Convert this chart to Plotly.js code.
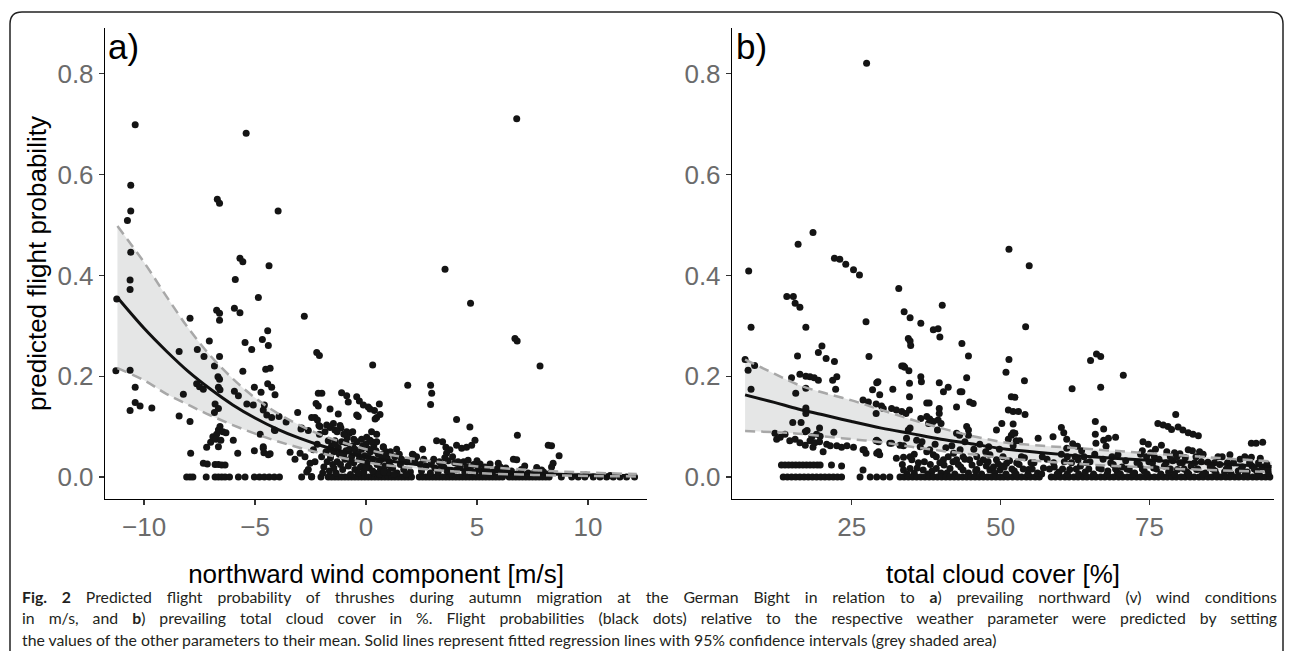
<!DOCTYPE html>
<html>
<head>
<meta charset="utf-8">
<script src="https://cdn.plot.ly/plotly-3.0.1.min.js"></script>
<style>
  html, body { margin: 0; padding: 0; background: #fff; }
  #chart { width: 1292px; height: 651px; }
</style>
</head>
<body>
<div id="chart"></div>
<script>
// ---------------- DATA ----------------
const probTicks = [0, 0.2, 0.4, 0.6, 0.8];
const probTickText = ['0.0', '0.2', '0.4', '0.6', '0.8'];
const windTicks = [-10, -5, 0, 5, 10];
const cloudTicks = [25, 50, 75];

const windTitle = 'northward wind component [m/s]';
const cloudTitle = 'total cloud cover [%]';
const probTitle = 'predicted flight probability';
const panelLabels = ['a)', 'b)'];
const captionLines = [
  '<b>Fig. 2</b> Predicted flight probability of thrushes during autumn migration at the German Bight in relation to <b>a</b>) prevailing northward (v) wind conditions',
  'in m/s, and <b>b</b>) prevailing total cloud cover in %. Flight probabilities (black dots) relative to the respective weather parameter were predicted by setting',
  'the values of the other parameters to their mean. Solid lines represent fitted regression lines with 95% confidence intervals (grey shaded area)'
];

// Panel a: fitted line and 95% CI
const windFitX   = [-11.2, -10, -9, -8, -7, -6, -5, -4, -3, -2, -1, 0, 1, 2, 3, 4, 5, 6, 7, 8, 9, 10, 11, 12.2];
const windFit    = [0.356, 0.295, 0.250, 0.209, 0.174, 0.143, 0.117, 0.095, 0.077, 0.062, 0.050, 0.040, 0.032, 0.026, 0.021, 0.016, 0.013, 0.010, 0.008, 0.007, 0.005, 0.004, 0.0033, 0.0025];
const windLower  = [0.216, 0.192, 0.165, 0.143, 0.122, 0.103, 0.086, 0.071, 0.058, 0.047, 0.037, 0.029, 0.023, 0.018, 0.014, 0.011, 0.008, 0.006, 0.005, 0.0035, 0.0027, 0.002, 0.0015, 0.0011];
const windUpper  = [0.498, 0.426, 0.359, 0.295, 0.240, 0.195, 0.157, 0.127, 0.103, 0.083, 0.068, 0.055, 0.045, 0.037, 0.031, 0.026, 0.021, 0.018, 0.015, 0.0125, 0.0105, 0.009, 0.0073, 0.0059];

// Panel b: fitted line and 95% CI
const cloudFitX  = [7.1, 12, 16, 20, 25, 30, 35, 40, 45, 51, 57, 63, 69, 75, 80, 85, 90, 95.5];
const cloudFit   = [0.163, 0.148, 0.135, 0.124, 0.110, 0.097, 0.086, 0.075, 0.066, 0.055, 0.048, 0.042, 0.037, 0.033, 0.030, 0.027, 0.024, 0.021];
const cloudLower = [0.091, 0.089, 0.086, 0.081, 0.075, 0.069, 0.060, 0.052, 0.045, 0.037, 0.031, 0.026, 0.022, 0.019, 0.016, 0.014, 0.012, 0.010];
const cloudUpper = [0.233, 0.205, 0.183, 0.168, 0.152, 0.133, 0.114, 0.097, 0.082, 0.068, 0.062, 0.057, 0.052, 0.047, 0.043, 0.039, 0.035, 0.031];

// Panel a points [northward wind, probability]
const windPoints = [
 [-10.4,0.699],[-5.4,0.682],[6.79,0.711],[-10.6,0.579],[-6.7,0.551],[-6.6,0.543],[-3.96,0.528],[-10.6,0.528],[-10.75,0.509],
 [-10.6,0.446],[-5.68,0.434],[-5.55,0.427],[-4.37,0.419],[3.56,0.412],[-5.89,0.392],[-10.63,0.391],[-10.63,0.372],[-11.23,0.353],
 [-4.85,0.356],[4.71,0.345],[-2.78,0.319],[-6.73,0.331],[-6.6,0.325],[-6.6,0.311],[-5.93,0.335],[-5.68,0.326],[-7.93,0.315],
 [6.71,0.275],[6.81,0.270],[-7.06,0.270],[-5.45,0.267],[-5.15,0.253],[-4.67,0.273],[-4.43,0.290],[-4.40,0.261],[-8.42,0.249],
 [-7.6,0.253],[-7.3,0.239],[-6.6,0.239],[-2.22,0.247],[-2.1,0.241],[-6.83,0.220],[-6.67,0.199],[-6.6,0.194],[-5.55,0.210],
 [-4.52,0.214],[-4.32,0.216],[-4.43,0.185],[-4.25,0.178],[-4.1,0.163],[-11.27,0.211],[-10.63,0.212],[-10.4,0.178],[-8.23,0.164],
 [-7.63,0.185],[-7.5,0.179],[-7.33,0.174],[-6.65,0.178],[-6.58,0.173],[-5.93,0.170],[-5.75,0.161],[-5.03,0.178],[-4.73,0.168],
 [0.3,0.222],[7.84,0.220],[1.88,0.182],[2.91,0.182],[2.96,0.166],[2.91,0.144],
 [-10.4,0.148],[-10.18,0.141],[-9.65,0.137],[-10.63,0.132],[-8.42,0.121],[-7.93,0.110],[-6.8,0.145],[-6.65,0.136],[-6.83,0.128],
 [-5.37,0.145],[-5.08,0.143],[-4.58,0.143],[-4.63,0.133],[-4.47,0.123],[-4.25,0.118],[-3.92,0.120],[-3.6,0.109],[-4.1,0.092],
 [-2.93,0.095],[-2.6,0.092],[-2.3,0.118],[-2.19,0.113],[-2.12,0.102],[-2.07,0.1],[-2.25,0.146],[-1.99,0.166],[-2.15,0.166],
 [-1.1,0.167],[-0.87,0.161],[-0.8,0.149],[-0.42,0.159],[-0.3,0.151],[-0.12,0.143],[0.1,0.139],[0.38,0.132],[0.6,0.145],
 [0.63,0.124],[0.48,0.118],[-0.42,0.123],[-0.35,0.120],[-1.62,0.135],[-1.25,0.125],[-1.47,0.106],[-1.17,0.102],[-2.15,0.141],
 [-3.08,0.128],[-2.45,0.118],[-1.77,0.103],[-1.62,0.098],[-1.4,0.093],[-1.13,0.097],[-0.87,0.090],[-0.75,0.087],[0.03,0.079],
 [0.18,0.073],[0.48,0.085],[0.48,0.07],[0.78,0.059],[0.41,0.115],[0.18,0.135],
 [4.08,0.114],[4.68,0.099],[6.82,0.083],[3.18,0.072],[3.45,0.070],[3.6,0.059],[3.78,0.054],[4.08,0.063],[4.31,0.057],[4.53,0.059],
 [4.76,0.063],[4.91,0.073],[8.21,0.063],[8.36,0.062],[8.7,0.042],[8.43,0.027],[8.36,0.020],[2.55,0.055],[1.38,0.055],[2.09,0.045],
 [2.28,0.040],[6.64,0.035],[6.79,0.034],[5.14,0.026],[5.59,0.026],[5.96,0.027],[7.69,0.019],[7.91,0.014],[3.3,0.03],[3.7,0.032],
 [4.0,0.028],[4.4,0.03],[4.6,0.033],[0.78,0.06],[3.63,0.047],[2.13,0.044],
 [-7.33,0.027],[-7.15,0.026],[-6.8,0.025],[-6.65,0.025],[-6.5,0.024],[-6.35,0.024],[-7.9,0.047],[-7.18,0.059],[-7.0,0.069],
 [-6.9,0.080],[-6.73,0.085],[-6.65,0.093],[-6.58,0.100],[-6.45,0.090],[-6.76,0.075],[-6.54,0.073],[-6.31,0.088],[-5.98,0.073],
 [-6.65,0.060],[-5.78,0.047],[-5.03,0.052],[-4.63,0.060],[-4.6,0.048],[-4.32,0.046],[-4.77,0.085],[-3.42,0.049],[-2.97,0.047],
 [-2.75,0.040],[-2.52,0.027],[-2.37,0.054],[-4.13,0.093],[-4.63,0.057],[-4.4,0.044],[-2.67,0.010],[-2.45,0.001],[-2.9,0.097],
 [-8.08,0],[-7.93,0],[-7.8,0],[-7.2,0],[-6.8,0],[-6.65,0],[-6.5,0],[-6.35,0],[-6.15,0],[-5.75,0],[-5.45,0],[-5.03,0],[-4.8,0],
 [-4.58,0],[-4.36,0],[-4.13,0],[-3.9,0],[-2.9,0],[-2.45,0],[-2.03,0],
 [-1.7,0],[-1.55,0],[-1.4,0],[-1.25,0],[-1.1,0],[-0.95,0],[-0.8,0],[-0.65,0],[-0.5,0],[-0.35,0],[-0.2,0],[-0.05,0],[0.1,0],
 [0.25,0],[0.4,0],[0.55,0],[0.7,0],[0.85,0],[1.0,0],[1.15,0],[1.3,0],[1.45,0],[1.6,0],[1.75,0],[1.9,0],[2.05,0],
 [-1.65,0.012],[-1.5,0.025],[-1.6,0.038],[-1.45,0.05],[-1.55,0.062],[-1.7,0.072],[-1.35,0.008],[-1.3,0.03],[-1.2,0.045],
 [-1.25,0.058],[-1.1,0.07],[-1.05,0.015],[-0.95,0.035],[-0.9,0.052],[-0.85,0.078],[-0.8,0.022],[-0.7,0.005],[-0.65,0.04],
 [-0.6,0.062],[-0.55,0.028],[-0.5,0.015],[-0.45,0.048],[-0.4,0.07],[-0.3,0.035],[-0.25,0.02],[-0.2,0.055],[-0.1,0.01],
 [-0.05,0.042],[0.0,0.065],[0.05,0.028],[0.15,0.018],[0.2,0.05],[0.3,0.035],[0.35,0.062],[0.4,0.008],[0.5,0.025],[0.55,0.045],
 [0.65,0.015],[0.7,0.035],[0.85,0.022],[0.9,0.05],[1.0,0.01],[1.05,0.03],[1.2,0.018],[1.3,0.04],[1.4,0.008],[1.55,0.025],
 [1.7,0.015],[1.85,0.03],[2.0,0.01],[-2.2,0.065],[-2.0,0.04],[-1.9,0.02],[-2.1,0.085],[-1.85,0.09],[-1.0,0.085],[-0.6,0.09],
 [-0.2,0.075],[0.25,0.09],[-1.3,0.09],[-1.8,0.05],[-1.4,0.072],[-0.75,0.055],[-0.15,0.03],[0.6,0.005],[0.95,0.038],[-2.3,0.03],
 [-1.95,0.008],[-0.35,0.008],[0.12,0.055],
 [-1.75,0.03],[-1.6,0.055],[-1.45,0.018],[-1.38,0.065],[-1.15,0.025],[-1.0,0.045],[-0.9,0.068],[-0.7,0.03],[-0.55,0.075],
 [-0.5,0.055],[-0.35,0.045],[-0.15,0.062],[0.0,0.02],[0.1,0.04],[0.25,0.07],[0.3,0.012],[0.45,0.052],[0.6,0.03],[0.75,0.045],
 [0.8,0.01],[1.1,0.022],[1.25,0.005],[1.6,0.035],[1.8,0.005],[-2.6,0.015],[-3.2,0.035],
 [2.4,0],[2.55,0],[2.7,0],[2.85,0],[3.0,0],[3.15,0],[3.3,0],[3.45,0],[3.6,0],[3.75,0],[3.9,0],[4.05,0],[4.2,0],[4.35,0],[4.5,0],
 [4.65,0],[4.8,0],[4.95,0],[5.1,0],[5.25,0],[5.4,0],[5.55,0],[5.7,0],[5.85,0],[6.0,0],[6.15,0],[6.45,0],[6.6,0],[6.75,0],[6.9,0],
 [7.05,0],[7.2,0],[7.35,0],[7.5,0],[7.65,0],[7.8,0],[7.95,0],[8.1,0],[8.25,0],[8.8,0],[9.27,0],[9.56,0],[9.86,0],[10.24,0],
 [10.54,0],[10.84,0],[11.14,0],[11.44,0],[11.74,0],[12.1,0],
 [2.5,0.012],[2.7,0.022],[2.9,0.008],[3.1,0.018],[3.25,0.01],[3.5,0.02],[3.65,0.012],[3.85,0.006],[4.1,0.015],[4.25,0.022],
 [4.45,0.01],[4.7,0.018],[4.9,0.008],[5.2,0.012],[5.45,0.015],[5.7,0.01],[5.9,0.016],[6.1,0.008],[6.55,0.012],[6.8,0.006],
 [7.0,0.015],[7.3,0.008],[7.6,0.01],[7.85,0.005],[8.0,0.01],[8.3,0.008],[2.2,0.03],[2.6,0.035],[3.9,0.04],[5.0,0.032],
 [9.9,0.004],[11.0,0.003],[1.5,0.045],[1.1,0.05],[3.4,0.025],[4.85,0.025],[5.35,0.02],[6.3,0.018],[7.15,0.022],[2.95,0.028],
 [2.45,0.025],[3.05,0.035],[3.55,0.038],[4.15,0.03],[4.55,0.02],[5.05,0.018],[5.6,0.005],[6.05,0.02],[6.35,0.005]
];

// Panel b points [total cloud cover, probability]
const cloudPoints = [
 [27.5,0.821],[7.7,0.409],[16.0,0.462],[18.5,0.485],[22.1,0.434],[23.0,0.432],[24.0,0.422],[25.3,0.411],[26.3,0.401],[32.9,0.374],
 [51.4,0.452],[54.8,0.419],[14.1,0.358],[15.2,0.358],[15.5,0.345],[16.3,0.337],[17.3,0.297],[8.1,0.297],[33.8,0.328],[34.8,0.316],
 [27.4,0.308],[36.6,0.305],[38.7,0.292],[39.5,0.294],[39.8,0.278],[40.2,0.341],[34.5,0.275],[34.8,0.270],[34.9,0.261],[43.5,0.265],
 [54.2,0.298],[27.9,0.239],[33.4,0.220],[33.9,0.218],[34.6,0.211],[44.6,0.240],[51.4,0.233],[50.9,0.208],[7.1,0.233],[7.6,0.212],
 [8.7,0.221],[8.1,0.174],[15.9,0.240],[14.9,0.197],[16.3,0.204],[17.3,0.200],[18.0,0.199],[18.7,0.197],[19.4,0.192],[19.4,0.247],
 [20.0,0.260],[20.7,0.235],[22.1,0.229],[17.3,0.176],[15.6,0.166],[21.8,0.192],[22.5,0.199],[22.3,0.174],[15.1,0.108],[16.5,0.108],
 [17.3,0.133],[17.3,0.126],[17.3,0.137],
 [26.9,0.153],[27.8,0.149],[28.5,0.173],[29.4,0.189],[29.7,0.163],[29.1,0.145],[30.0,0.141],[29.1,0.126],[30.3,0.136],[31.9,0.174],
 [31.7,0.136],[32.5,0.133],[33.4,0.130],[34.1,0.126],[34.7,0.133],[34.7,0.159],[34.7,0.186],[36.6,0.199],[36.7,0.189],[36.6,0.116],
 [37.6,0.120],[37.9,0.106],[37.6,0.147],[38.0,0.147],[39.7,0.187],[41.2,0.178],[39.7,0.136],[39.7,0.126],[39.5,0.113],[39.4,0.093],
 [42.6,0.139],[43.5,0.169],[44.3,0.197],[44.8,0.149],[45.4,0.146],[42.6,0.087],[43.1,0.083],[44.3,0.1],[44.6,0.093],[44.6,0.083],
 [33.7,0.220],[29.2,0.187],[40.4,0.169],[43.2,0.169],[38.1,0.115],[38.7,0.110],[40.0,0.106],[35.9,0.073],[34.5,0.093],[34.8,0.097],
 [51.3,0.133],[52.1,0.130],[53.0,0.130],[54.1,0.124],[51.8,0.159],[52.4,0.158],[52.1,0.105],[52.4,0.087],[51.8,0.083],[51.3,0.075],
 [56.3,0.077],[54.0,0.191],[50.2,0.106],[52.1,0.088],[52.6,0.072],[53.2,0.072],[52.1,0.062],[58.8,0.080],[60.2,0.098],[60.6,0.088],
 [61.1,0.075],[61.1,0.057],[62.1,0.066],[62.9,0.061],[63.6,0.052],[62.0,0.175],[65.1,0.231],[66.1,0.244],[66.8,0.239],[66.8,0.178],
 [70.6,0.202],[65.9,0.110],[65.9,0.085],[66.0,0.067],[67.3,0.095],[67.3,0.073],[67.7,0.061],[68.1,0.077],[69.3,0.079],[69.7,0.044],
 [73.9,0.070],[74.8,0.065],[73.8,0.052],[74.5,0.040],[76.4,0.106],[77.3,0.103],[78.1,0.100],[78.7,0.094],[79.4,0.124],[79.8,0.099],
 [80.6,0.093],[81.5,0.088],[82.3,0.085],[83.2,0.082],[77.0,0.063],[77.9,0.050],[79.2,0.048],[80.1,0.046],[81.5,0.054],[82.2,0.052],
 [83.4,0.050],[88.5,0.044],[92.1,0.067],[92.9,0.067],[94.0,0.069],[92.1,0.039],[93.6,0.037],[84.8,0.029],
 [12.1,0.087],[12.4,0.075],[13.0,0.079],[13.8,0.085],[14.6,0.072],[15.5,0.075],[16.3,0.068],[17.2,0.063],[18.0,0.072],[18.5,0.059],
 [18.8,0.068],[19.7,0.081],[19.6,0.070],[20.2,0.050],[20.8,0.065],[21.4,0.062],[22.0,0.089],[22.5,0.062],[23.3,0.059],[24.2,0.062],
 [25.3,0.059],[26.9,0.054],[29.1,0.072],[29.5,0.050],[31.4,0.067],[33.1,0.063],[33.7,0.062],[34.2,0.077],[17.2,0.090],[17.5,0.092],
 [18.3,0.080],[19.1,0.085],[19.6,0.097],[27.1,0.054],[27.4,0.047],[29.2,0.073],[29.5,0.070],[29.2,0.047],[29.7,0.044],[31.7,0.067],
 [32.5,0.037],[33.7,0.039],[34.8,0.040],[35.1,0.034],[37.6,0.050],[38.1,0.054],[38.7,0.044],[39.2,0.040],[40.4,0.034],[41.2,0.040],
 [42.1,0.047],[42.6,0.034],[43.2,0.054],[43.7,0.040],[44.8,0.034],[46.0,0.040],[47.1,0.034],[48.2,0.044],[49.3,0.034],[50.4,0.040],
 [51.0,0.027],[33.7,0.014],[34.8,0.017],[37.0,0.014],[39.2,0.017],[41.5,0.017],[43.7,0.014],[46.0,0.015],[48.2,0.014],[49.9,0.014],
 [26.9,0.014],[49.3,0.093],[36.5,0.06],[40.8,0.058],[45.5,0.055],[47.5,0.05],[36.2,0.028],[38.2,0.025],[40.5,0.024],[42.9,0.025],
 [45.2,0.024],[47.6,0.022],[50.2,0.022],[35.5,0.008],[37.8,0.006],[40.0,0.008],[42.3,0.006],[44.6,0.008],[46.8,0.006],[49.0,0.008],
 [33.5,0.025],[34.3,0.006],[36.0,0.018],[37.2,0.03],[38.5,0.012],[39.8,0.028],[41.0,0.008],[42.0,0.03],[43.3,0.02],[44.0,0.035],
 [45.8,0.012],[46.5,0.028],[47.9,0.03],[48.8,0.02],[49.6,0.026],[35.5,0.045],[36.8,0.07],[39.0,0.065],[41.8,0.062],[44.0,0.07],
 [46.5,0.065],[48.0,0.06],[49.8,0.055],
 [13.2,0.024],[13.8,0.024],[14.4,0.024],[15.0,0.024],[15.6,0.024],[16.2,0.024],[16.8,0.024],[17.4,0.024],[18.0,0.024],[18.6,0.024],
 [19.2,0.024],[19.7,0.024],[21.6,0.024],[23.3,0.022],
 [13.5,0],[14.2,0],[14.9,0],[15.6,0],[16.3,0],[17.0,0],[17.7,0],[18.4,0],[19.1,0],[19.8,0],[20.5,0],[21.2,0],[21.9,0],[22.6,0],
 [23.3,0],[26.4,0],[28.1,0],[29.2,0],[30.3,0],[31.4,0],[33.1,0],[33.8,0],[34.5,0],[35.2,0],[35.9,0],[36.6,0],[37.3,0],[38.0,0],
 [38.7,0],[39.4,0],[40.1,0],[40.8,0],[41.5,0],[42.2,0],[42.9,0],[43.6,0],[44.3,0],[45.0,0],[45.7,0],[46.4,0],[47.1,0],[47.8,0],
 [48.5,0],[49.2,0],[49.9,0],
 [50.5,0],[51.2,0],[52.0,0],[52.8,0],[53.5,0],[54.3,0],[55.0,0],[55.8,0],[56.5,0],[58.5,0],[59.2,0],[60.0,0],[60.8,0],[61.5,0],
 [62.3,0],[63.0,0],[63.8,0],[64.5,0],[65.3,0],[66.0,0],[66.8,0],[67.5,0],[68.3,0],[69.0,0],[69.8,0],[70.5,0],[71.3,0],[72.0,0],
 [72.8,0],[73.5,0],[74.3,0],[75.0,0],[75.8,0],[76.5,0],[77.3,0],[78.0,0],[78.8,0],[79.5,0],[80.3,0],[81.0,0],[81.8,0],[82.5,0],
 [83.3,0],[84.0,0],[84.8,0],[85.5,0],[86.3,0],[87.0,0],[87.8,0],[88.5,0],[89.3,0],[90.0,0],[90.8,0],[91.5,0],[92.3,0],[93.0,0],
 [93.8,0],[94.5,0],[95.2,0],
 [50.6,0.02],[51.5,0.032],[52.3,0.012],[53.1,0.025],[54.0,0.038],[54.7,0.015],[55.6,0.028],[56.2,0.008],[57.2,0.018],[59.0,0.02],
 [59.8,0.01],[60.7,0.03],[61.6,0.015],[62.5,0.04],[63.4,0.022],[64.2,0.01],[65.0,0.03],[65.8,0.045],[66.5,0.018],[67.2,0.035],
 [68.0,0.012],[68.9,0.025],[69.6,0.01],[70.4,0.02],[71.6,0.015],[72.5,0.008],[73.3,0.025],[74.1,0.012],[74.9,0.03],[75.7,0.018],
 [76.6,0.035],[77.5,0.022],[78.2,0.01],[78.9,0.032],[79.7,0.015],[80.5,0.028],[81.3,0.01],[82.0,0.022],[82.9,0.015],[83.7,0.03],
 [84.4,0.008],[85.2,0.02],[86.0,0.012],[86.8,0.025],[87.6,0.01],[88.3,0.018],[89.1,0.028],[89.9,0.012],[90.6,0.02],[91.4,0.01],
 [92.2,0.022],[93.0,0.012],[93.9,0.02],[94.8,0.015],[95.0,0.008],[73.5,0.045],[75.2,0.048],[76.0,0.055],[84.0,0.045],[86.5,0.04],
 [90.2,0.035],[94.7,0.025],[57.8,0.035],[60.2,0.045],[63.0,0.034],[71.0,0.032],[78.5,0.04],[81.0,0.038],
 [50.9,0.006],[52.6,0.006],[54.6,0.006],[56.9,0.006],[59.5,0.006],[61.2,0.006],[63.1,0.006],[65.6,0.006],[67.9,0.006],[70.1,0.006],
 [72.2,0.006],[74.6,0.006],[76.9,0.006],[79.2,0.006],[81.6,0.006],[83.9,0.006],[86.2,0.006],[88.7,0.006],[91.1,0.006],[93.4,0.006],
 [51.9,0.016],[53.8,0.016],[55.3,0.016],[58.2,0.016],[60.4,0.016],[62.7,0.016],[64.8,0.016],[66.9,0.016],[69.3,0.016],[71.2,0.016],
 [73.8,0.016],[76.2,0.016],[78.5,0.016],[80.8,0.016],[83.1,0.016],[85.6,0.016],[87.9,0.016],[90.4,0.016],[92.6,0.016],[94.9,0.016],
 [52.7,0.028],[55.1,0.028],[58.9,0.028],[61.9,0.028],[64.4,0.028],[68.5,0.028],[72.9,0.028],[75.5,0.028],[77.8,0.028],[80.1,0.028],
 [82.6,0.028],[85.9,0.028],[88.1,0.028],[91.8,0.028],[93.3,0.028],
 [53.5,0.04],[57.0,0.04],[61.2,0.04],[64.0,0.04],[68.7,0.04],[75.8,0.04],[79.6,0.04],[82.8,0.04],[87.2,0.04],[91.0,0.04]
];

// ---------------- PLOT ----------------
const W = 1292, H = 651;
const px = v => v / W;
const py = v => 1 - v / H;

const tickFont = {family: 'Liberation Sans, Arial, sans-serif', size: 26, color: '#6b6b6b'};
const titleFont = {family: 'Liberation Sans, Arial, sans-serif', size: 26, color: '#000'};
const ribbonColor = 'rgb(229,230,230)';
const dashColor = '#a8a8a8';
const dotColor = '#141414';

function panelTraces(fx, fit, lo, up, pts, xa, ya) {
  return [
    {x: fx, y: lo, xaxis: xa, yaxis: ya, mode: 'lines', line: {width: 0, shape: 'spline'}, hoverinfo: 'skip', showlegend: false},
    {x: fx, y: up, xaxis: xa, yaxis: ya, mode: 'lines', fill: 'tonexty', fillcolor: ribbonColor, line: {width: 0, shape: 'spline'}, hoverinfo: 'skip', showlegend: false},
    {x: pts.map(p => p[0]), y: pts.map(p => p[1]), xaxis: xa, yaxis: ya, mode: 'markers', type: 'scatter',
     marker: {color: dotColor, size: 7, line: {width: 0}}, showlegend: false},
    {x: fx, y: fit, xaxis: xa, yaxis: ya, mode: 'lines', line: {color: '#111', width: 3, shape: 'spline'}, showlegend: false},
    {x: fx, y: lo, xaxis: xa, yaxis: ya, mode: 'lines', line: {color: dashColor, width: 2.5, dash: '10px,6px', shape: 'spline'}, showlegend: false},
    {x: fx, y: up, xaxis: xa, yaxis: ya, mode: 'lines', line: {color: dashColor, width: 2.5, dash: '10px,6px', shape: 'spline'}, showlegend: false}
  ];
}

const data = [].concat(
  panelTraces(windFitX, windFit, windLower, windUpper, windPoints, 'x', 'y'),
  panelTraces(cloudFitX, cloudFit, cloudLower, cloudUpper, cloudPoints, 'x2', 'y2')
);

const axisCommon = {
  showgrid: false, zeroline: false, showline: true, linecolor: '#000', linewidth: 1.2,
  ticks: 'outside', ticklen: 5, tickwidth: 1.2, tickcolor: '#333', tickfont: tickFont,
  fixedrange: true
};

const captionLeft = 21, captionRight = 1276;
const yDomain = [py(499), py(28)];
const layout = {
  width: W, height: H,
  margin: {l: 0, r: 0, t: 0, b: 0},
  paper_bgcolor: '#fff', plot_bgcolor: '#fff',
  showlegend: false,
  xaxis: Object.assign({}, axisCommon, {
    domain: [px(105), px(647)], range: [-11.76, 12.66], anchor: 'y',
    tickvals: windTicks,
    title: {text: windTitle, font: titleFont, standoff: 23}
  }),
  yaxis: Object.assign({}, axisCommon, {
    domain: yDomain, range: [-0.0437, 0.891], anchor: 'x',
    tickvals: probTicks, ticktext: probTickText,
    title: {text: probTitle, font: titleFont, standoff: 3}
  }),
  xaxis2: Object.assign({}, axisCommon, {
    domain: [px(732), px(1274)], range: [4.9, 95.9], anchor: 'y2',
    tickvals: cloudTicks,
    title: {text: cloudTitle, font: titleFont, standoff: 23}
  }),
  yaxis2: Object.assign({}, axisCommon, {
    domain: yDomain, range: [-0.0437, 0.891], anchor: 'x2',
    tickvals: probTicks, ticktext: probTickText
  }),
  annotations: [
    {text: panelLabels[0], xref: 'paper', yref: 'paper', x: px(106), y: py(47), xanchor: 'left', yanchor: 'middle',
     showarrow: false, font: {family: 'Liberation Sans, Arial, sans-serif', size: 35, color: '#000'}},
    {text: panelLabels[1], xref: 'paper', yref: 'paper', x: px(734), y: py(47), xanchor: 'left', yanchor: 'middle',
     showarrow: false, font: {family: 'Liberation Sans, Arial, sans-serif', size: 35, color: '#000'}}
  ].concat(captionLines.map((t, i) => ({
    text: t, xref: 'paper', yref: 'paper', x: px(captionLeft), y: py(596 + 21.5 * i), xanchor: 'left', yanchor: 'middle',
    showarrow: false, align: 'left', borderpad: 0, font: {family: 'Lato, Noto Sans, sans-serif', size: 15.8, color: '#231f20'}
  }))),
  shapes: [
    {type: 'path', xref: 'paper', yref: 'paper', layer: 'above',
     path: `M ${px(10)},${py(651)} L ${px(10)},${py(24)} Q ${px(10)},${py(12)} ${px(22)},${py(12)} L ${px(1271)},${py(12)} Q ${px(1283)},${py(12)} ${px(1283)},${py(24)} L ${px(1283)},${py(651)}`,
     line: {color: '#222', width: 1.5}}
  ]
};

// justify the first two caption lines (as in the printed caption)
function justifyCaption(gd) {
  const anns = gd.querySelectorAll('.annotation');
  anns.forEach(a => {
    const idx = +a.getAttribute('data-index');
    if (idx !== 2 && idx !== 3) return;
    const txt = a.querySelector('text.annotation-text');
    if (!txt) return;
    const width = txt.getComputedTextLength();
    const spaces = (txt.textContent.match(/ /g) || []).length;
    if (!spaces) return;
    const extra = (captionRight - captionLeft - width) / spaces;
    if (extra > 0) txt.style.wordSpacing = extra.toFixed(2) + 'px';
  });
}

Plotly.newPlot('chart', data, layout, {staticPlot: true, displayModeBar: false})
  .then(gd => justifyCaption(gd));
</script>
</body>
</html>
